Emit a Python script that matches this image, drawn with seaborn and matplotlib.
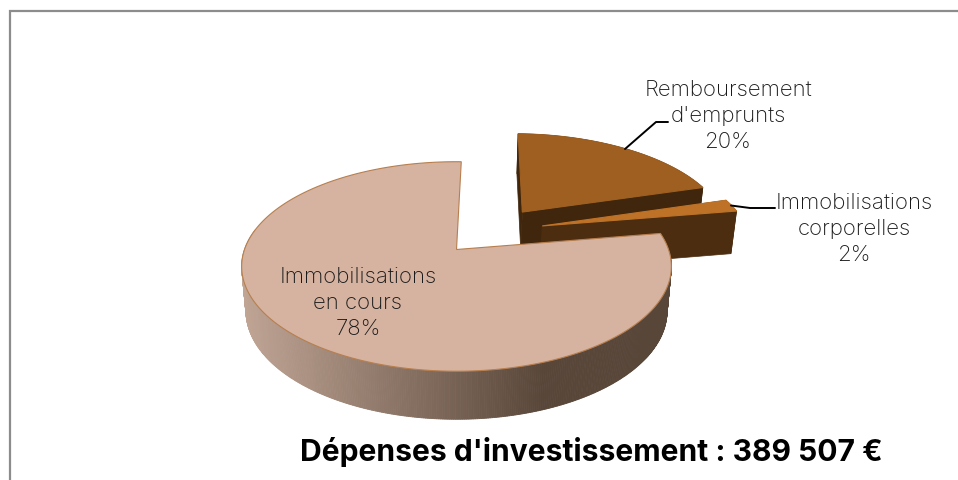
import numpy as np
import matplotlib
matplotlib.use("Agg")
import matplotlib.pyplot as plt
from matplotlib.patches import Polygon
import seaborn as sns

# Data
labels = ["Remboursement\nd'emprunts", "Immobilisations\ncorporelles", "Immobilisations\nen cours"]
values = [20, 2, 78]
title = "Dépenses d'investissement : 389 507 €"

sns.set_theme(style="white")
plt.rcParams['font.family'] = ['Inter', 'Lato', 'DejaVu Sans']

# Projection of the pie plane (pixels)
CX, CY = 456.5, 250.5
A, B = 212, 102
K = 0.162
DEPTH = 44
START = 1.5

top_cols = ["#9e5f20", "#bd7228", "#d6b3a0"]
side_cols = ["#40260c", "#4c2d10", None]
explode = [(0.33, -0.39), (0.42, -0.24), (0, 0)]
side_grad = sns.blend_palette(["#c0a595", "#584639"], 200)


def project(u, v, bottom=False):
    s = 1 / (1 - K * v)
    if bottom:
        return CX + A * u * s * 0.98, CY + B * v * s + DEPTH * np.sqrt(s)
    return CX + A * u * s, CY + B * v * s


def arc_points(a0, a1, off):
    t = np.radians(np.linspace(a0, a1, max(int(a1 - a0) * 2, 6)))
    return off[0] + np.sin(t), off[1] - np.cos(t)


fig = plt.figure(figsize=(9.58, 4.81), dpi=100)
ax = fig.add_axes([0, 0, 1, 1])
ax.set_xlim(0, 958)
ax.set_ylim(481, 0)
ax.axis("off")

# Frame
ax.plot([10, 10, 958], [481, 12, 12], color="#8c8c8c", lw=1.6, solid_joinstyle="miter")

# Slices are drawn back to front
edges = np.cumsum([0] + values) * 3.6 + START
for i in range(len(values)):
    a0, a1 = edges[i], edges[i + 1]
    off = explode[i]
    u, v = arc_points(a0, a1, off)
    tx, ty = project(u, v)
    bx, by = project(u, v, bottom=True)
    ax0, ay0 = project(off[0], off[1])
    bx0, by0 = project(off[0], off[1], bottom=True)

    if side_cols[i]:
        # rim and both cut faces in one dark colour
        rim = np.r_[np.c_[tx, ty], np.c_[bx, by][::-1]]
        ax.add_patch(Polygon(rim, fc=side_cols[i], ec=side_cols[i], lw=0.5))
        for x, y, xb, yb in [(tx[0], ty[0], bx[0], by[0]), (tx[-1], ty[-1], bx[-1], by[-1])]:
            face = [(ax0, ay0), (x, y), (xb, yb), (bx0, by0)]
            ax.add_patch(Polygon(face, fc=side_cols[i], ec=side_cols[i], lw=0.5))
    else:
        # rim with a shading that runs from left to right, back part stays hidden
        for j in range(len(tx) - 1):
            if v[j] < -0.2 and j > len(tx) / 2:
                continue
            f = min((tx[j] - 240) / 305, 1)
            c = side_grad[int(max(f, 0) * 199)]
            quad = [(tx[j], ty[j]), (tx[j + 1], ty[j + 1]), (bx[j + 1], by[j + 1]), (bx[j], by[j])]
            ax.add_patch(Polygon(quad, fc=c, ec=c, lw=0.6))

    edge = "#b77f4f" if i == 2 else top_cols[i]
    ax.add_patch(Polygon(np.r_[[(ax0, ay0)], np.c_[tx, ty]], fc=top_cols[i], ec=edge, lw=0.8))

# Leader lines
ax.plot([625, 656, 668], [150, 123, 123], color="black", lw=1.4)
ax.plot([731, 750, 775], [206.5, 209, 209], color="black", lw=1.4)

# Labels
label_pos = [(728, 116), (854, 229), (358, 303)]
for lab, val, (x, y) in zip(labels, values, label_pos):
    ax.text(x, y, f"{lab}\n{val}%", ha="center", va="center", fontsize=16,
            color="#1a1a1a", linespacing=1.38, fontweight="light")

ax.text(591, 452, title, ha="center", va="center", fontsize=21.6, fontweight="bold", color="black")

fig.savefig("out.png", dpi=100)
